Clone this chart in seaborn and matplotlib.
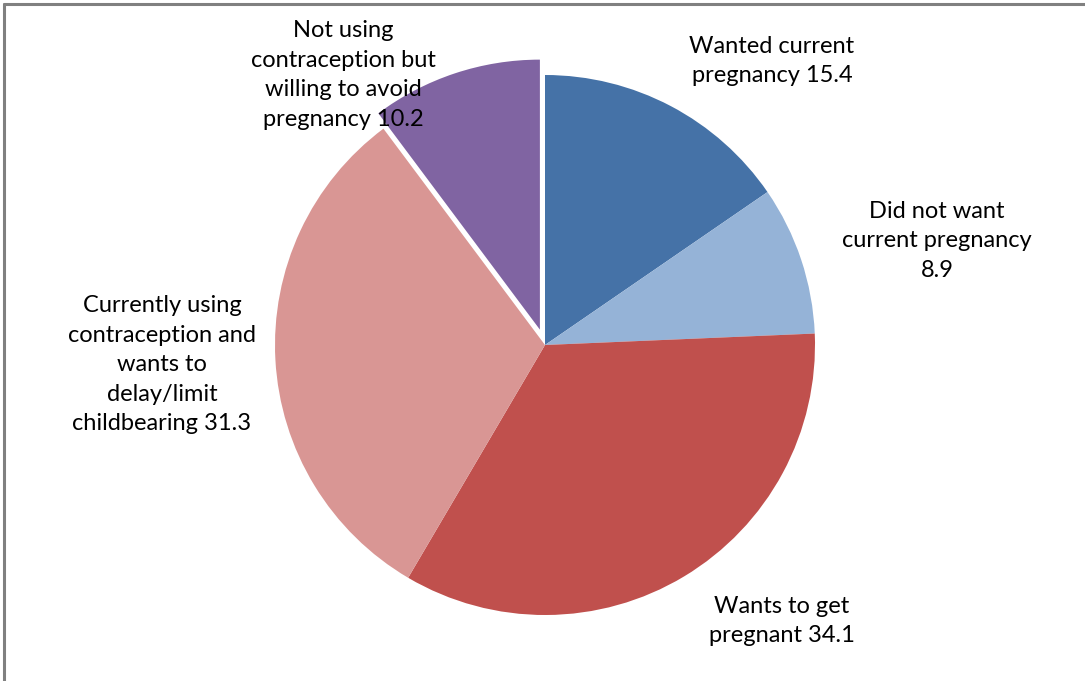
import matplotlib
matplotlib.use("Agg")
import matplotlib.pyplot as plt
from matplotlib.lines import Line2D
import seaborn as sns

labels = [
    "Wanted current\npregnancy 15.4",
    "Did not want\ncurrent pregnancy\n8.9",
    "Wants to get\npregnant 34.1",
    "Currently using\ncontraception and\nwants to\ndelay/limit\nchildbearing 31.3",
    "Not using\ncontraception but\nwilling to avoid\npregnancy 10.2",
]
values = [15.4, 8.9, 34.1, 31.3, 10.2]
colors = ["#4572A7", "#95B3D7", "#C0504D", "#D99694", "#8064A2"]
explode = [0, 0, 0, 0, 0.06]

sns.set_theme(style="white")
plt.rcParams["font.family"] = ["Lato", "DejaVu Sans"]

W, H = 1085, 681
cx, cy, R = 545, 345, 270
fig = plt.figure(figsize=(W / 100, H / 100), dpi=100)
ax = fig.add_axes([0, 0, 1, 1])
ax.pie(values, colors=colors, startangle=90, counterclock=False, explode=explode,
       radius=1, wedgeprops=dict(linewidth=0))
ax.set_xlim(-cx / R, (W - cx) / R)
ax.set_ylim(-(H - cy) / R, cy / R)
ax.set_aspect("auto")
ax.axis("off")

label_pos = [(772, 61), (937, 241), (782, 621), (162, 365), (343, 75)]
for lab, (px, py) in zip(labels, label_pos):
    ax.text((px - cx) / R, (cy - py) / R, lab, ha="center", va="center",
            fontsize=17, color="#000000", linespacing=1.5)

fig.add_artist(Line2D([4 / W, 1], [1 - 4 / H, 1 - 4 / H], color="#808080", lw=2.2,
                      transform=fig.transFigure))
fig.add_artist(Line2D([4 / W, 4 / W], [0, 1 - 4 / H], color="#808080", lw=2.2,
                      transform=fig.transFigure))

fig.savefig("out.png", dpi=100)
